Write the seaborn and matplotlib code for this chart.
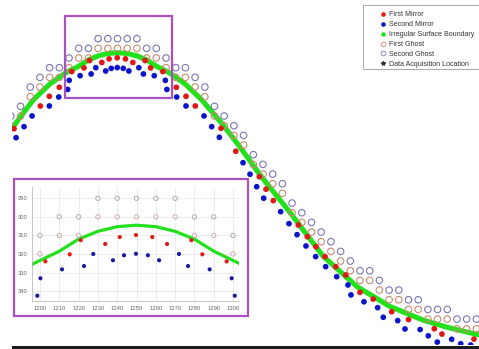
import matplotlib
matplotlib.use("Agg")
import matplotlib.pyplot as plt
import seaborn as sns
from matplotlib.lines import Line2D
from matplotlib.patches import Rectangle

# ghost positions sit on a 10 x 10 grid
ghost2_x = [1140, 1150, 1160, 1170, 1180, 1190, 1200, 1210, 1220, 1230, 1240, 1250,
            1260, 1270, 1280, 1290, 1300, 1310, 1320, 1330, 1340, 1350, 1360, 1370,
            1380, 1390, 1400, 1410, 1420, 1430, 1440, 1450, 1460, 1470, 1480, 1490,
            1500, 1510, 1520, 1530, 1540, 1550, 1560, 1570, 1580, 1590, 1600, 1610, 1620]
ghost2_y = [370, 360, 340, 330, 320, 320, 310, 300, 300, 290, 290, 290,
            290, 290, 300, 300, 310, 320, 320, 330, 340, 360, 370, 380,
            390, 410, 420, 430, 440, 460, 470, 480, 490, 500, 510, 520,
            530, 530, 540, 550, 550, 560, 560, 570, 570, 570, 580, 580, 580]
ghost1_x = [1140, 1150, 1160, 1170, 1180, 1190, 1200, 1210, 1220, 1230, 1240, 1250,
            1260, 1270, 1280, 1290, 1300, 1310, 1320, 1330, 1340, 1350, 1360, 1370,
            1380, 1390, 1400, 1410, 1420, 1430, 1440, 1450, 1460, 1470, 1480, 1490,
            1500, 1510, 1520, 1530, 1540, 1550, 1560, 1570, 1580, 1590, 1600, 1610, 1620]
ghost1_y = [380, 370, 350, 340, 330, 330, 320, 310, 310, 300, 300, 300,
            300, 300, 310, 310, 320, 330, 330, 340, 350, 370, 380, 390,
            400, 420, 430, 440, 450, 470, 480, 490, 500, 510, 520, 530,
            540, 540, 550, 560, 560, 570, 570, 580, 580, 580, 590, 590, 590]

mirror1_x = [1143.3, 1170.4, 1179.7, 1190.0, 1202.8, 1215.4, 1221.1, 1233.8, 1241.3,
             1249.7, 1258.2, 1265.8, 1278.4, 1284.1, 1296.7, 1310.6, 1320.6, 1330.2,
             1356.7, 1371.9, 1396.2, 1403.1, 1410.6, 1436.4, 1445.7, 1454.6, 1463.9,
             1475.0, 1485.3, 1500.0, 1513.6, 1532.7, 1550.0, 1576.6, 1584.5, 1617.5]
mirror1_y = [383.1, 359.6, 349.6, 340.3, 324.0, 320.2, 312.6, 314.6, 310.9,
             309.8, 310.9, 314.6, 312.6, 320.2, 324.0, 340.3, 349.6, 359.6,
             382.7, 406.4, 432.7, 445.7, 457.5, 482.7, 494.8, 505.1, 515.4,
             525.8, 534.4, 552.3, 559.3, 572.4, 580.5, 590.0, 595.5, 600.7]

mirror2_x = [1145.4, 1153.6, 1161.9, 1179.7, 1189.4, 1198.6, 1200.2, 1211.4, 1222.8,
             1227.6, 1237.8, 1243.5, 1249.7, 1255.9, 1261.7, 1272.0, 1276.7, 1287.9,
             1299.3, 1300.9, 1311.0, 1320.6, 1339.2, 1347.1, 1355.0, 1379.4, 1386.6,
             1393.5, 1400.7, 1418.2, 1426.8, 1435.1, 1444.3, 1454.3, 1464.6, 1476.0,
             1487.6, 1490.7, 1504.1, 1518.2, 1524.0, 1538.9, 1546.4, 1562.0, 1570.4,
             1579.7, 1594.5, 1603.9, 1614.1]
mirror2_y = [392.4, 381.0, 369.9, 359.6, 350.3, 342.5, 333.1, 328.3, 326.5,
             320.0, 323.4, 320.7, 319.9, 320.7, 323.4, 320.0, 326.5, 328.3,
             333.1, 342.5, 350.3, 359.6, 369.9, 381.0, 392.0, 418.3, 430.2,
             443.1, 455.0, 468.9, 481.3, 492.7, 504.4, 515.4, 525.8, 536.1,
             544.7, 555.0, 562.1, 568.2, 578.1, 581.6, 590.2, 590.8, 597.3,
             603.8, 600.9, 605.5, 606.8]

boundary_x = [1141, 1152, 1163, 1180, 1197, 1210, 1220, 1230, 1240, 1250, 1260, 1270,
              1280, 1290, 1303, 1320, 1337, 1357, 1376, 1397, 1428, 1462, 1497, 1531,
              1565, 1590, 1623]
boundary_y = [383, 368, 353.5, 337, 325, 318.5, 312, 307.8, 305.3, 304.5, 305.3, 307.8,
              312, 318.5, 325, 337, 353.5, 377, 401.7, 431, 470, 515, 546.5, 567,
              581, 588.5, 596.5]

legend_labels = ["First Mirror", "Second Mirror", "Irregular Surface Boundary",
                 "First Ghost", "Second Ghost", "Data Acquisition Location"]

RED = "#e01818"
BLUE = "#0a14cc"
GREEN = "#22e01c"
GHOST1 = "#c98a6c"
GHOST2 = "#7878b0"
PURPLE = "#a852c0"

sns.set_style("white")
plt.rcParams["font.family"] = ["Liberation Sans", "DejaVu Sans"]

W, H = 479, 349
fig = plt.figure(figsize=(W / 100, H / 100), dpi=100)


def draw_layers(ax, big):
    sns.lineplot(x=boundary_x, y=boundary_y, sort=False, estimator=None, color=GREEN,
                 lw=3.7 if big else 2.3, ax=ax, zorder=2)
    if big:
        g1, g2, gs, dot = GHOST1, GHOST2, 22, 17
    else:
        g1, g2, gs, dot = "#c8a4a4", "#a4a4b0", 10, 9
    sns.scatterplot(x=ghost2_x, y=ghost2_y, marker="o", facecolor="none", edgecolor=g2,
                    s=gs, linewidth=0.8 if big else 0.6, ax=ax, zorder=3)
    sns.scatterplot(x=ghost1_x, y=ghost1_y, marker="o", facecolor="none", edgecolor=g1,
                    s=gs, linewidth=0.8 if big else 0.6, ax=ax, zorder=3)
    sns.scatterplot(x=mirror1_x, y=mirror1_y, color=RED, edgecolor="none", s=dot,
                    ax=ax, zorder=4)
    sns.scatterplot(x=mirror2_x, y=mirror2_y, color=BLUE if big else "#1a1aa0",
                    edgecolor="none", s=dot, ax=ax, zorder=4)


# main view
ax = fig.add_axes([12 / W, 4 / H, 467 / W, 345 / H])
draw_layers(ax, True)
ax.set_xlim(1141.2, 1622.7)
ax.set_ylim(606.8, 250.0)
ax.axis("off")
ax.add_patch(Rectangle((1195.9, 266.5), 110.3, 84.8, fill=False, ec=PURPLE, lw=1.6,
                       zorder=5))

# zoom frame + inset
fig.patches.append(Rectangle((14 / W, 1 - 316 / H), 234 / W, 137 / H, transform=fig.transFigure,
                             fc="white", ec=PURPLE, lw=1.6, zorder=1))
axi = fig.add_axes([32.3 / W, 1 - 301.1 / H, 206.5 / W, 114.5 / H], zorder=2)
draw_layers(axi, False)
axi.set_xlim(1196, 1303)
axi.set_ylim(345.4, 283.7)
axi.set_xticks(range(1200, 1301, 10))
axi.set_yticks(range(290, 341, 10))
axi.grid(True, color="#e4e4e4", lw=0.5)
axi.tick_params(labelsize=4.2, colors="#666666", length=1.5, width=0.4, pad=2)
for s in ["top", "right"]:
    axi.spines[s].set_visible(False)
for s in ["left", "bottom"]:
    axi.spines[s].set_color("#b0b0b0")
    axi.spines[s].set_linewidth(0.5)

# legend
fig.patches.append(Rectangle((363 / W, 1 - 69 / H), 125 / W, 64 / H, transform=fig.transFigure,
                             fc="white", ec="#9a9a9a", lw=0.6, zorder=1))
handles = [
    Line2D([], [], ls="none", marker="o", ms=3.3, mfc=RED, mec="none"),
    Line2D([], [], ls="none", marker="o", ms=3.3, mfc=BLUE, mec="none"),
    Line2D([], [], ls="none", marker="o", ms=3.3, mfc=GREEN, mec="none"),
    Line2D([], [], ls="none", marker="o", ms=3.4, mfc="none", mec=GHOST1, mew=0.6),
    Line2D([], [], ls="none", marker="o", ms=3.4, mfc="none", mec=GHOST2, mew=0.6),
    Line2D([], [], ls="none", marker="*", ms=3.0, mfc="#333333", mec="#333333"),
]
leg = fig.legend(handles, legend_labels, loc="upper left",
                 bbox_to_anchor=(379.5 / W, 1 - 11.5 / H), bbox_transform=fig.transFigure,
                 frameon=False, borderpad=0, borderaxespad=0, handlelength=1.0,
                 handletextpad=0.36, labelspacing=0.4, fontsize=5.1)
for t in leg.get_texts():
    t.set_color("#333333")

# dark strip along the bottom edge
fig.patches.append(Rectangle((12 / W, 0), 467 / W, 3.5 / H, transform=fig.transFigure,
                             fc="#1c1c1c", ec="none", zorder=1))

fig.savefig("out.png", dpi=100)
